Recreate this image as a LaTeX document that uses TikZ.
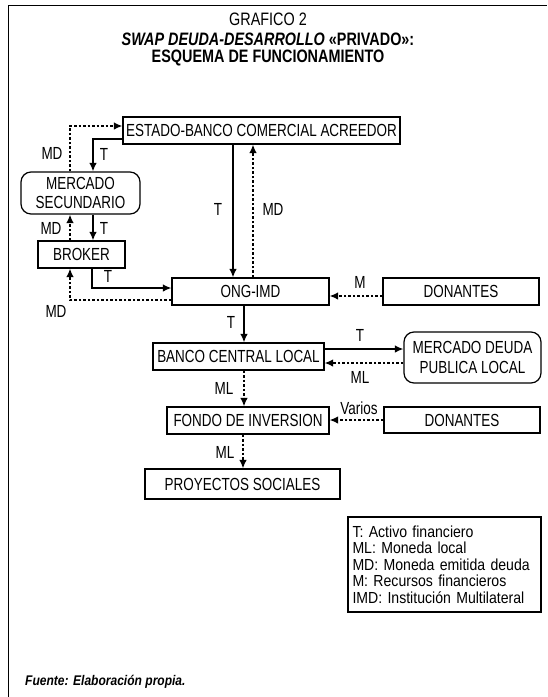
\documentclass[tikz,border=0pt]{standalone}
\usepackage{fontspec}
\setmainfont{Liberation Sans}
\newfontfamily\boxfam{Liberation Sans}[FakeStretch=0.77]
\newfontfamily\legfam{Liberation Sans}[FakeStretch=0.88]
\newfontfamily\titfam{Liberation Sans}[FakeStretch=0.8]
\newfontfamily\footfam{Liberation Sans}[FakeStretch=0.86]
\usetikzlibrary{arrows.meta}
\tikzset{
  boxtxt/.style={font=\boxfam\fontsize{17.5}{18}\selectfont},
  box/.style={draw, line width=1.2pt, inner sep=0pt, boxtxt, align=center},
  rbox/.style={box, rounded corners=10pt},
  sol/.style={line width=1.4pt, -{Latex[length=8.5pt,width=7.5pt]}},
  dot/.style={line width=1.4pt, dash pattern=on 2.5pt off 2pt, -{Latex[length=8.5pt,width=7.5pt]}},
  lab/.style={boxtxt, inner sep=0pt},
  ttl/.style={font=\titfam\fontsize{18}{19}\selectfont, inner sep=0pt},
}
\begin{document}
\begin{tikzpicture}[x=1pt, y=-1pt]
\useasboundingbox (0,0) rectangle (547,697);
% frame
\draw[line width=1.4pt] (8.5,697) -- (8.5,5.5) -- (547,5.5);
% title
\node[ttl] (g1) at (268,19) {GRAFICO 2};
\node[ttl] (g2) at (268,39) {\bfseries\itshape SWAP DEUDA-DESARROLLO \upshape «PRIVADO»:};
\node[ttl] (g3) at (268,58) {\bfseries ESQUEMA DE FUNCIONAMIENTO};
% boxes
\node[box, minimum width=277pt, minimum height=27pt] (estado) at (261.5,130.5) {ESTADO-BANCO COMERCIAL ACREEDOR};
\node[rbox, minimum width=119pt, minimum height=42pt] (merc) at (80.5,193) {MERCADO\\[1pt]SECUNDARIO};
\node[box, minimum width=87pt, minimum height=27pt] (broker) at (81.5,254.5) {BROKER};
\node[box, minimum width=157pt, minimum height=27pt] (ong) at (250.5,291.5) {ONG-IMD};
\node[box, minimum width=156pt, minimum height=27pt] (don1) at (461,291.5) {DONANTES};
\node[box, minimum width=171pt, minimum height=27pt] (banco) at (238.5,356.5) {BANCO CENTRAL LOCAL};
\node[rbox, minimum width=137pt, minimum height=51pt] (mdpl) at (472.5,357.5) {MERCADO DEUDA\\[2pt]PUBLICA LOCAL};
\node[box, minimum width=162pt, minimum height=27pt] (fondo) at (248,420.5) {FONDO DE INVERSION};
\node[box, minimum width=156pt, minimum height=26pt] (don2) at (462,420) {DONANTES};
\node[box, minimum width=195pt, minimum height=30pt] (proy) at (242.5,484) {PROYECTOS SOCIALES};
% legend
\node[draw, line width=1.2pt, inner xsep=4.5pt, inner ysep=0pt, text width=184pt, minimum height=95pt, align=left,
  font=\legfam\fontsize{16}{16.6}\selectfont] (leg) at (444.5,564.5)
  {T: Activo financiero\\ML: Moneda local\\MD: Moneda emitida deuda\\M: Recursos financieros\\IMD: Institución Multilateral};
% footer
\node[anchor=west, inner sep=0pt, font=\footfam\fontsize{14}{15}\selectfont\bfseries\itshape] (fuente) at (25,682) {Fuente: Elaboración propia.};
% connectors
\draw[sol] (estado.west |- 0,139) -| (merc.north -| 93,0);
\draw[dot] (merc.north -| 70,0) |- (estado.west |- 0,126);
\draw[sol] (merc.south -| 93,0) -- (broker.north -| 93,0);
\draw[dot] (broker.north -| 70,0) -- (merc.south -| 70,0);
\draw[sol] (broker.south -| 92,0) |- (ong.west |- 0,288);
\draw[dot] (ong.west |- 0,300) -| (broker.south -| 70,0);
\draw[sol] (estado.south -| 233,0) -- (ong.north -| 233,0);
\draw[dot] (ong.north -| 253,0) -- (estado.south -| 253,0);
\draw[dot] (don1.west |- 0,296) -- (ong.east |- 0,296);
\draw[sol] (ong.south -| 244,0) -- (banco.north -| 244,0);
\draw[sol] (banco.east |- 0,349) -- (mdpl.west |- 0,349);
\draw[dot] (mdpl.west |- 0,363) -- (banco.east |- 0,363);
\draw[dot] (banco.south -| 244,0) -- (fondo.north -| 244,0);
\draw[dot] (don2.west |- 0,420) -- (fondo.east |- 0,420);
\draw[dot] (fondo.south -| 243,0) -- (proy.north -| 243,0);
% labels
\node[lab] (l1) at (104,154) {T};
\node[lab] (l2) at (52,153) {MD};
\node[lab] (l3) at (104,228) {T};
\node[lab] (l4) at (51,228) {MD};
\node[lab] (l5) at (108,276) {T};
\node[lab] (l6) at (56,311) {MD};
\node[lab] (l7) at (218,209) {T};
\node[lab] (l8) at (273,209) {MD};
\node[lab] (l9) at (360,282) {M};
\node[lab] (l10) at (231,322) {T};
\node[lab] (l11) at (360,335) {T};
\node[lab] (l12) at (360,377) {ML};
\node[lab] (l13) at (224,388) {ML};
\node[lab] (l14) at (359,408) {Varios};
\node[lab] (l15) at (225,452) {ML};
\end{tikzpicture}
\end{document}
